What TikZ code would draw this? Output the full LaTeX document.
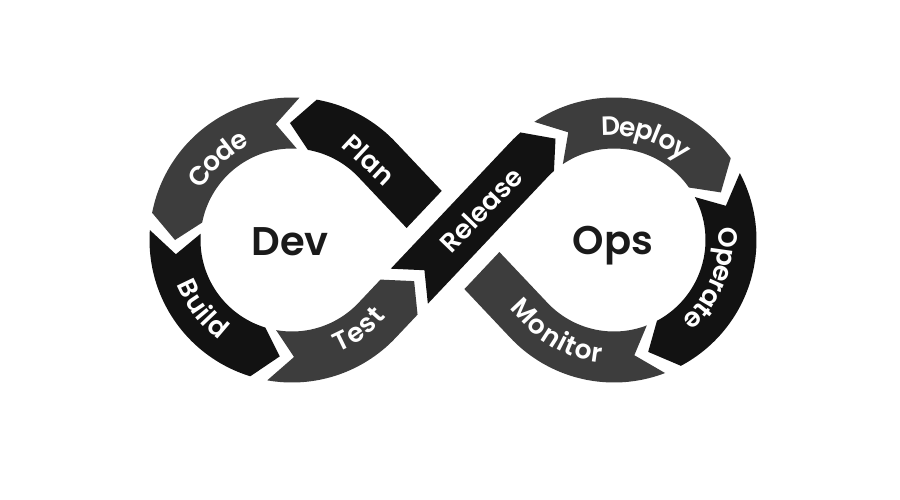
\documentclass[tikz,border=0pt]{standalone}
\usepackage{fontspec}
\usetikzlibrary{decorations.text}
\IfFontExistsTF{Poppins SemiBold}{\newfontfamily\lblface{Poppins SemiBold}}{\newfontfamily\lblface{Poppins}}
\newcommand\lblfont{\lblface\fontsize{26.5}{26.5}\selectfont}
\newcommand\bigfont{\lblface\fontsize{40}{40}\selectfont}
\definecolor{segdark}{HTML}{3D3D3D}
\definecolor{segblack}{HTML}{121212}
\definecolor{ink}{HTML}{1A1A1A}
\def\RadO{142.5}\def\RadI{91.5}\def\RadM{117}
\newcommand{\ringseg}[6]{%
 \fill[#1] plot[domain=#4:#5,samples=60] ({#2+\RadO*cos(\x)},{#3+\RadO*sin(\x)})
  -- ({#2+\RadM*cos((#5)+(#6))},{#3+\RadM*sin((#5)+(#6))})
  -- plot[domain=#5:#4,samples=60] ({#2+\RadI*cos(\x)},{#3+\RadI*sin(\x)})
  -- ({#2+\RadM*cos((#4)+(#6))},{#3+\RadM*sin((#4)+(#6))}) -- cycle;}
\tikzset{
  lbl/.style={text=white, font=\lblfont, inner sep=0pt},
  curvelbl/.style={decorate, decoration={text along path, text={|\lblfont|#1},
     text align=center, text color=white, raise=-9.5pt}},
  hub/.style={font=\bigfont, text=ink, anchor=base, inner sep=0pt}
}
\begin{document}
\begin{tikzpicture}[x=1pt,y=-1pt]
\useasboundingbox[fill=white] (0,0) rectangle (900,500);
% ring segments
\ringseg{segdark}{292}{240}{-87}{-169}{-11}   % Code
\ringseg{segblack}{292}{240}{-176}{-253}{-11} % Build
\ringseg{segdark}{614}{240}{-124}{-35}{11}    % Deploy
\ringseg{segblack}{614}{240}{-28}{62}{11}     % Operate
% Plan
\fill[segblack] (406.6,228.0) -- (441.7,190.9) -- (395.56,142.11)
 -- plot[domain=-43.4:-80,samples=40] ({292+\RadO*cos(\x)},{240+\RadO*sin(\x)})
 -- ({292+\RadM*cos(-91)},{240+\RadM*sin(-91)})
 -- plot[domain=-80:-43.4,samples=40] ({292+\RadI*cos(\x)},{240+\RadI*sin(\x)})
 -- cycle;
% Monitor
\fill[segdark] plot[domain=69:136.6,samples=50] ({614+\RadO*cos(\x)},{240+\RadO*sin(\x)})
 -- (464.4,289.1) -- (499.4,252.0)
 -- plot[domain=136.6:69,samples=50] ({614+\RadI*cos(\x)},{240+\RadI*sin(\x)})
 -- ({614+\RadM*cos(80)},{240+\RadM*sin(80)}) -- cycle;
% Test
\fill[segdark] plot[domain=-260:-316.6,samples=50] ({292+\RadO*cos(\x)},{240+\RadO*sin(\x)})
 -- (417.54,314.64) -- (414.13,281.13) -- (380.48,279.6)
 -- plot[domain=-316.6:-260,samples=50] ({292+\RadI*cos(\x)},{240+\RadI*sin(\x)})
 -- ({292+\RadM*cos(-271)},{240+\RadM*sin(-271)}) -- cycle;
% Release
\fill[segblack] (390.79,268.69) -- (510.44,142.11)
 -- plot[domain=-136.6:-131,samples=10] ({614+\RadO*cos(\x)},{240+\RadO*sin(\x)})
 -- ({614+\RadM*cos(-120)},{240+\RadM*sin(-120)})
 -- plot[domain=-131:-136.6,samples=10] ({614+\RadI*cos(\x)},{240+\RadI*sin(\x)})
 -- (427.85,303.73) -- (424.43,270.23) -- cycle;
% straight labels
\node[lbl, rotate=-43] (plan) at (369,160) {Plan};
\node[lbl, rotate=46] (release) at (481,210) {Release};
% curved labels
\path[curvelbl=Code] plot[domain=192:263,samples=60] ({292+113*cos(\x)},{240+113*sin(\x)});
\path[curvelbl=Build] plot[domain=178:107,samples=60] ({292+114*cos(\x)},{240+114*sin(\x)});
\path[curvelbl=Test] plot[domain=88:19,samples=60] ({292+112*cos(\x)},{240+112*sin(\x)});
\path[curvelbl=Deploy] plot[domain=-112:-34,samples=60] ({614+114*cos(\x)},{240+114*sin(\x)});
\path[curvelbl=Operate] plot[domain=-18:61,samples=60] ({614+114*cos(\x)},{240+114*sin(\x)});
\path[curvelbl=Monitor] (497.3,282.4) -- (531.2,318.3)
 -- plot[domain=136.6:82,samples=50] ({614+114*cos(\x)},{240+114*sin(\x)});
% hubs
\node[hub] (dev) at (290,255) {Dev};
\node[hub] (ops) at (613,254) {Ops};
\end{tikzpicture}
\end{document}
